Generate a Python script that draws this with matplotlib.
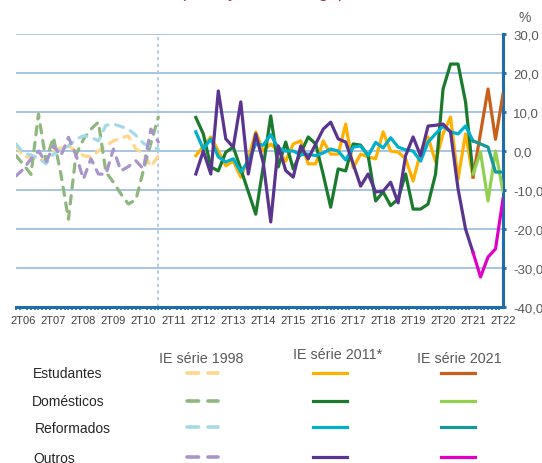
import numpy as np
import matplotlib
matplotlib.use("Agg")
import matplotlib.pyplot as plt
from matplotlib.lines import Line2D
from matplotlib.ticker import FixedLocator, MultipleLocator

plt.rcParams['font.family'] = ['Liberation Sans', 'DejaVu Sans']

# quarters 1T06 .. 2T22
quarters = [f"{q}T{y:02d}" for y in range(6, 23) for q in range(1, 5)][:66]

# IE serie 1998 (1T06 .. 4T10)
est_98 = [1.3, -1.5, -1.5, -2.5, -2, 0, 0.8, 1.3, 0, -1.2, -1.5, 0, 1.3, 2.6, 3.3, 3.9, 0.5, -0.5, -4, -1.2]
dom_98 = [-1.2, -3.5, -6, 9.5, -2.5, 3.5, -6, -17.5, -1, 3, 5.6, 7.4, -5.4, -8, -11, -13.6, -12.5, -5, 2, 8.7]
ref_98 = [1.8, -0.5, -1, -1.8, -3.3, -0.8, 0.3, 1.3, 3, 3.9, 3.5, 2.6, 6.6, 6.9, 6.3, 5.6, 4, 2, 1, 0.5]
out_98 = [-6.4, -4.6, -2, 0, -2.9, 1.3, -1.2, 3.5, -1, -7.2, -2, -5.9, -6, 0.5, -5.1, -4, -2.5, -4.6, 5.6, 2.3]

# IE serie 2011 (1T12 .. 2T21)
est_11 = [-1.2, 1.2, 3.6, 0, -3.8, -2.6, -6.7, -2, 4.9, 0, 1.8, 0, -2.6, 1.8, 2.6, -3.3, -3.3, 2.6, -0.8,
          -0.8, 6.9, -4.3, -0.8, -1.5, -2, 4.9, 0, -0.3, -2, -7.7, -0.3, 3.6, -2.8, 4.4, 8.7, -7.2, 4.4, -6.7]
dom_11 = [8.6, 4.4, -4.1, -5.1, -0.3, 1, -4.6, -10.4, -16.2, -4, 9, -4.1, 2.3, -4.6, -0.5, 3.6, 1.8, -6, -14.4,
          -4.6, -5.1, 1.8, 1.5, -1.2, -12.8, -10.5, -14, -12.3, -5.9, -14.9, -14.9, -13.6, -5.9, 15.9, 22.3, 22.3, 12.6, -5.9]
ref_11 = [4.9, 0.5, 3.1, -1.5, -2.8, -2, -5.4, -2.6, 1.8, 1.5, 4.2, 0.8, 0, 0, -1, -0.8, -1.2, -0.5, 0.5,
          0, -2.3, 1, 1.3, -1.2, 2.2, 0.8, 3.4, 1, 0.3, 0, -2.6, 2.3, 4.4, 6.4, 4.9, 4.4, 6.4, 2.6]
out_11 = [-5.9, 0, -5.9, 15.4, 3.1, 1, 12.6, -5.9, 4.4, -3, -18.2, 1.3, -5, -6.7, 1.3, -2, 1.8, 5.6, 7.4,
          3.1, 2.3, -3.3, -9, -5.9, -10.5, -10.3, -8, -13.3, -1.2, 3.6, -1.2, 6.4, 6.6, 6.9, 4.9, -9.7, -20, -26]

# IE serie 2021 (2T21 .. 2T22)
est_21 = [-6.7, 4.6, 15.9, 3, 14.6]
dom_21 = [-5.9, -0.3, -12.8, 0, -10.3]
ref_21 = [2.6, 1.8, 1, -5.4, -5.4]
out_21 = [-26, -32.3, -27.2, -25.1, -12.3]

groups = ["Estudantes", "Domésticos", "Reformados", "Outros"]
col_98 = ["#FFD68A", "#8FB880", "#A5DAE8", "#A895CC"]
col_11 = ["#FFB000", "#1C7A2E", "#00B0CC", "#5A3590"]
col_21 = ["#C8601A", "#92D050", "#17999B", "#E000C8"]

x98 = np.arange(quarters.index("1T06"), quarters.index("4T10") + 1)
x11 = np.arange(quarters.index("1T12"), quarters.index("2T21") + 1)
x21 = np.arange(quarters.index("2T21"), quarters.index("2T22") + 1)

W, H = 542, 464
fig = plt.figure(figsize=(W / 100, H / 100), dpi=100)
ax = fig.add_axes([16 / W, 1 - 308 / H, (503 - 16) / W, (308 - 35) / H])

blue = "#1F6BB0"
grid = "#A8C5E2"

ax.set_xlim(0, len(quarters) - 1)
ax.set_ylim(-40, 30)
for v in range(-30, 31, 10):
    ax.axhline(v, color=grid, lw=1.4, zorder=0)
ax.axvline(x98[-1], color=grid, lw=1.2, ls=(0, (2, 2)), zorder=0)

dash = (2.6, 2.4)
for ys, c in zip([est_98, dom_98, ref_98, out_98], col_98):
    ax.plot(x98, ys, color=c, lw=2.3, dashes=dash, dash_capstyle="round", zorder=2)
for ys, c in zip([est_11, dom_11, ref_11, out_11], col_11):
    ax.plot(x11, ys, color=c, lw=2.3, zorder=3)
for ys, c in zip([est_21, dom_21, ref_21, out_21], col_21):
    ax.plot(x21, ys, color=c, lw=2.3, zorder=4)

# spines
for s in ["top", "left"]:
    ax.spines[s].set_visible(False)
for s in ["bottom", "right"]:
    ax.spines[s].set_color(blue)
    ax.spines[s].set_linewidth(2.2)

ax.yaxis.tick_right()
ax.set_yticks(range(-40, 31, 10))
ax.set_yticklabels([f"{v:.1f}".replace(".", ",") for v in range(-40, 31, 10)])
ax.tick_params(axis="y", colors=blue, labelcolor="#595959", labelsize=9.5,
               length=2.5, width=2, pad=5)

ticks = list(range(quarters.index("2T06"), len(quarters), 4))
ax.xaxis.set_major_locator(FixedLocator(ticks))
ax.set_xticklabels([quarters[i] for i in ticks])
ax.xaxis.set_minor_locator(MultipleLocator(0.5))
ax.tick_params(axis="x", which="major", length=0, labelsize=8, labelcolor="#404040", pad=6)
ax.tick_params(axis="x", which="minor", length=2.5, width=1.2, colors=blue)

fig.text(525 / W, 1 - 18 / H, "%", fontsize=10, color="#595959", ha="center", va="center")
# title sits above the canvas, only the descenders show
fig.text(262 / W, 1 + 3 / H, "(variação homóloga)", fontsize=13, color="#9E3050",
         ha="center", va="baseline")

# custom legend table
heads = ["IE série 1998", "IE série 2011*", "IE série 2021"]
head_x = [201, 338, 459]
head_y = [359, 355, 359]
for t, hx, hy in zip(heads, head_x, head_y):
    fig.text(hx / W, 1 - hy / H, t, fontsize=10.3, color="#595959", ha="center", va="center")

row_y = [374, 402, 429, 459]
row_x = [33, 32, 35, 33]
for g, rx, ry in zip(groups, row_x, row_y):
    fig.text(rx / W, 1 - ry / H, g, fontsize=10, color="#262626", ha="left", va="center")

line_y = [374, 402, 428, 458]
for k, ry in enumerate(line_y):
    yy = 1 - ry / H
    fig.add_artist(Line2D([187 / W, 218 / W], [yy, yy], color=col_98[k], lw=2.6,
                          dashes=(3.2, 2.6), dash_capstyle="round"))
    fig.add_artist(Line2D([313 / W, 347 / W], [yy, yy], color=col_11[k], lw=2.3))
    fig.add_artist(Line2D([441 / W, 475 / W], [yy, yy], color=col_21[k], lw=2.3))

fig.savefig("out.png", dpi=100)
